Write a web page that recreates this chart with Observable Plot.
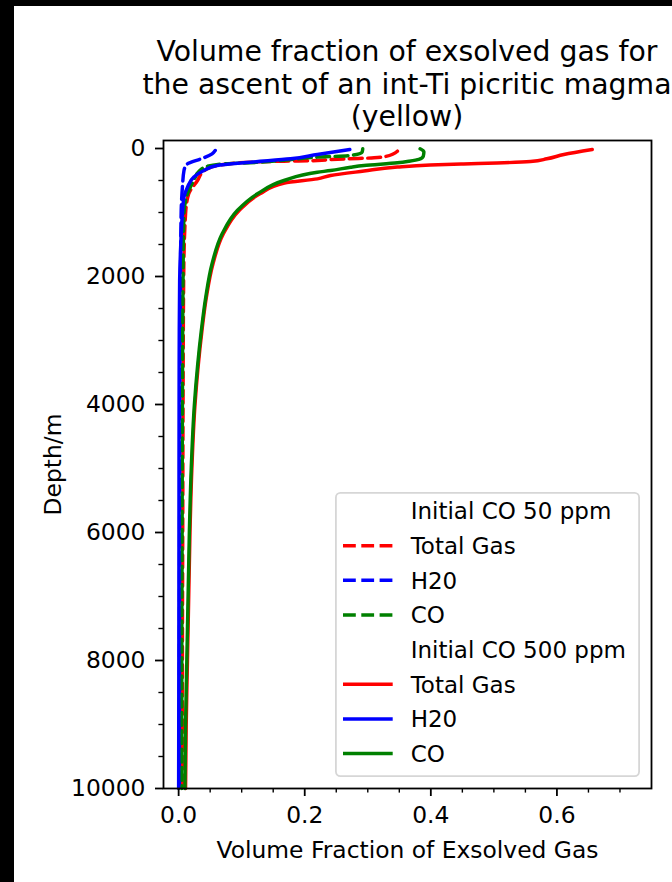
<!DOCTYPE html>
<html><head><meta charset="utf-8">
<script src="https://cdn.jsdelivr.net/npm/d3@7"></script>
<script src="https://cdn.jsdelivr.net/npm/@observablehq/plot@0.6"></script>
<style>
html,body{margin:0;padding:0;background:#000;width:672px;height:882px;overflow:hidden;}
#page{position:absolute;left:14px;top:6px;width:658px;height:876px;background:#fff;overflow:hidden;font-family:"DejaVu Sans",sans-serif;}
#title{height:128px;box-sizing:border-box;padding-top:30px;width:800px;margin-left:-7px;text-align:center;font-size:28.3px;line-height:32.5px;color:#000;white-space:nowrap;}
#legend{position:absolute;left:321px;top:486px;}
#chart svg{display:block;}
</style></head><body>
<div id="page"><div id="title"></div><div id="chart"></div><div id="legend"></div></div>
<script>
// ---- text ----
const titleLines = ["Volume fraction of exsolved gas for", "the ascent of an int-Ti picritic magma", "(yellow)"];
const xLabel = "Volume Fraction of Exsolved Gas";
const yLabel = "Depth/m";
const groupLabels = ["Initial CO 50 ppm", "Initial CO 500 ppm"];
const seriesNames = ["Total Gas", "H20", "CO"];
const seriesColors = ["red", "blue", "green"];

// ---- ticks ----
const xMajor = [0, 0.2, 0.4, 0.6];
const xMinor = [0.05, 0.1, 0.15, 0.25, 0.3, 0.35, 0.45, 0.5, 0.55, 0.65, 0.7];
const yMajor = [0, 2000, 4000, 6000, 8000, 10000];
const yMinor = [500, 1000, 1500, 2500, 3000, 3500, 4500, 5000, 5500, 6500, 7000, 7500, 8500, 9000, 9500];

// ---- data: Initial CO 50 ppm (dashed) ----
const depthTotal50 = [42, 125, 146, 161, 172, 188, 198, 214, 266, 350, 500, 708, 1020, 2000, 4000, 6000, 8000, 10000];
const fracTotal50  = [0.347, 0.328, 0.310, 0.267, 0.241, 0.220, 0.167, 0.114, 0.061, 0.040, 0.030, 0.016, 0.011, 0.008, 0.007, 0.0065, 0.006, 0.006];
const depthH2O50 = [31, 83, 161, 214, 240, 344, 604, 1000, 2000, 4000, 7000, 10000];
const fracH2O50  = [0.058, 0.053, 0.036, 0.020, 0.014, 0.0085, 0.006, 0.004, 0.003, 0.002, 0.0015, 0.001];
const depthCO50 = [5, 57, 109, 135, 180, 214, 240, 280, 350, 500, 708, 1020, 2000, 4000, 6000, 8000, 10000];
const fracCO50  = [0.292, 0.291, 0.273, 0.220, 0.170, 0.130, 0.070, 0.045, 0.033, 0.024, 0.014, 0.0085, 0.007, 0.006, 0.0055, 0.005, 0.005];

// ---- data: Initial CO 500 ppm (solid) ----
const depthTotal500 = [16, 94, 161, 203, 227, 242, 259, 289, 352, 422, 474, 540, 708, 969, 1333, 1800, 2323, 2844, 3400, 4000, 5000, 6000, 7000, 8000, 9000, 10000];
const fracTotal500  = [0.656, 0.611, 0.584, 0.558, 0.505, 0.452, 0.399, 0.347, 0.294, 0.241, 0.220, 0.168, 0.129, 0.096, 0.071, 0.0545, 0.044, 0.037, 0.031, 0.026, 0.021, 0.018, 0.016, 0.014, 0.012, 0.011];
const depthH2O500 = [16, 94, 161, 214, 266, 344, 448, 604, 760, 1020, 1542, 2063, 2844, 4000, 6000, 8000, 10000];
const fracH2O500  = [0.2715, 0.220, 0.1775, 0.114, 0.061, 0.040, 0.024, 0.014, 0.0084, 0.006, 0.0032, 0.0016, 0.001, 0.0007, 0.0005, 0.0003, 0.0];
const depthCO500 = [5, 50, 120, 170, 200, 224, 266, 292, 344, 370, 500, 708, 969, 1333, 1800, 2323, 2844, 3400, 4000, 5000, 6000, 7000, 8000, 9000, 10000];
const fracCO500  = [0.383, 0.389, 0.388, 0.381, 0.365, 0.347, 0.294, 0.273, 0.241, 0.220, 0.167, 0.125, 0.093, 0.069, 0.053, 0.043, 0.036, 0.030, 0.025, 0.020, 0.017, 0.015, 0.013, 0.011, 0.010];

const seriesList = [
  {group: 0, idx: 0, depth: depthTotal50, frac: fracTotal50},
  {group: 0, idx: 1, depth: depthH2O50, frac: fracH2O50},
  {group: 0, idx: 2, depth: depthCO50, frac: fracCO50},
  {group: 1, idx: 0, depth: depthTotal500, frac: fracTotal500},
  {group: 1, idx: 1, depth: depthH2O500, frac: fracH2O500},
  {group: 1, idx: 2, depth: depthCO500, frac: fracCO500}
];

const FS = 23.4, LW = 3.45, DASH = "12.8,5.5";

// title
document.getElementById("title").innerHTML = titleLines.map(t => `<div>${t}</div>`).join("");

const lineMarks = seriesList.map(s => Plot.line(d3.zip(s.depth, s.frac), {
  x: d => d[1], y: d => d[0],
  stroke: seriesColors[s.idx], strokeWidth: LW,
  strokeDasharray: s.group === 0 ? DASH : undefined,
  curve: "monotone-y"
}));

const chart = Plot.plot({
  width: 658, height: 748,
  marginLeft: 149, marginRight: 21, marginTop: 6, marginBottom: 94,
  style: {fontFamily: "DejaVu Sans", fontSize: FS + "px", background: "white", color: "black"},
  x: {domain: [-0.024, 0.75], label: null},
  y: {domain: [10000, -125], label: null},
  marks: [
    ...lineMarks,
    Plot.axisX(xMajor, {tickSize: 8, tickPadding: 10, strokeWidth: 1.8, fontSize: FS, tickFormat: d3.format(".1f"), label: null}),
    Plot.axisX(xMinor, {tickSize: 4.6, strokeWidth: 1.4, tickFormat: () => "", label: null}),
    Plot.axisY(yMajor, {tickSize: 8, tickPadding: 10, strokeWidth: 1.8, fontSize: FS, tickFormat: d3.format("d"), label: null}),
    Plot.axisY(yMinor, {tickSize: 4.6, strokeWidth: 1.4, tickFormat: () => "", label: null}),
    Plot.text([xLabel], {text: d => d, frameAnchor: "bottom", lineAnchor: "bottom", textAnchor: "middle", dy: 69, fontSize: FS, fill: "black"}),
    Plot.text([yLabel], {text: d => d, frameAnchor: "left", lineAnchor: "bottom", textAnchor: "middle", rotate: -90, dx: -103, fontSize: FS, fill: "black"}),
    Plot.frame({stroke: "black", strokeWidth: 1.8})
  ]
});
document.getElementById("chart").appendChild(chart);

// legend
const rows = [];
groupLabels.forEach((g, gi) => {
  rows.push({label: g, color: null, dashed: false});
  seriesNames.forEach((n, i) => rows.push({label: n, color: seriesColors[i], dashed: gi === 0}));
});
const LWd = 305, LHt = 285;
const svg = d3.select("#legend").append("svg").attr("width", LWd).attr("height", LHt)
  .style("font-family", "DejaVu Sans").style("font-size", "23px");
svg.append("rect").attr("x", 0.9).attr("y", 0.9).attr("width", LWd - 1.8).attr("height", LHt - 1.8)
  .attr("rx", 4.5).attr("fill", "white").attr("fill-opacity", 0.8).attr("stroke", "#d6d6d6").attr("stroke-width", 1.8);
rows.forEach((r, i) => {
  const cy = 19 + i * 34.65;
  if (r.color) {
    svg.append("line").attr("x1", 8).attr("x2", 57.7).attr("y1", cy).attr("y2", cy)
      .attr("stroke", r.color).attr("stroke-width", LW)
      .attr("stroke-dasharray", r.dashed ? DASH : null);
  }
  svg.append("text").attr("x", 75.7).attr("y", cy + 8.3).attr("fill", "black").text(r.label);
});
</script></body></html>
